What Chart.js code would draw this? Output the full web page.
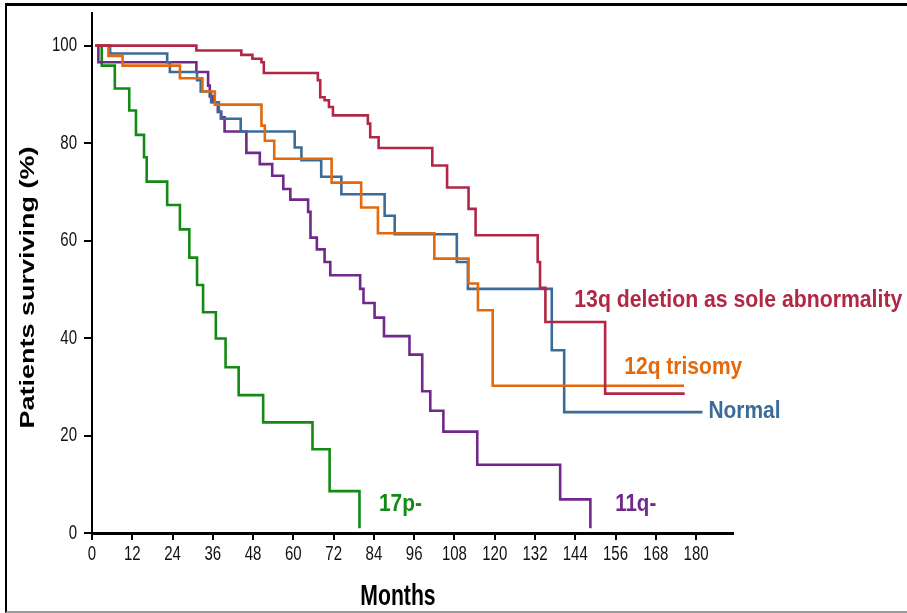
<!DOCTYPE html>
<html>
<head>
<meta charset="utf-8">
<script src="https://cdn.jsdelivr.net/npm/chart.js@4/dist/chart.umd.min.js"></script>
<style>
  html, body { margin: 0; padding: 0; background: #fff; overflow: hidden; }
  #wrap { position: relative; width: 907px; height: 613px; }
  #frame {
    position: absolute; left: 5px; top: 3px; width: 910px; height: 610px;
    box-sizing: border-box; pointer-events: none;
    border-top: 3px solid #000; border-left: 2px solid #000; border-bottom: 2px solid #999;
  }
  canvas { position: absolute; left: 0; top: 0; }
</style>
</head>
<body>
<div id="wrap">
  <canvas id="kmChart" width="907" height="613"></canvas>
  <div id="frame"></div>
</div>
<script>
// Ejes
const xTicks = [0, 12, 24, 36, 48, 60, 72, 84, 96, 108, 120, 132, 144, 156, 168, 180];
const yTicks = [0, 20, 40, 60, 80, 100];

// Curvas de supervivencia (meses, % de pacientes)
const times13q = [1, 31.1, 44.5, 47.8, 50.5, 51.2, 67.3, 68.0, 69.3, 70.6, 71.8, 82.2, 82.9, 85.4, 101.4, 105.8, 112.2, 114.3, 132.8, 133.5, 135.1, 152.9, 176.6];
const surv13q  = [100, 99.0, 98.1, 97.3, 96.6, 94.4, 92.9, 89.4, 88.8, 87.4, 85.7, 84.0, 81.2, 79.0, 75.4, 70.9, 66.5, 61.1, 55.6, 50.3, 43.3, 28.6, 28.6];

const times12q = [1, 4.9, 9.1, 26.2, 32.9, 36.6, 50.5, 51.5, 54.3, 71.4, 80.2, 85.2, 102.0, 112.2, 115.0, 119.4, 176.4];
const surv12q  = [100, 97.9, 95.9, 93.3, 90.6, 87.9, 83.6, 80.5, 76.8, 71.9, 66.8, 61.5, 56.3, 51.2, 45.7, 30.2, 30.2];

const timesNormal = [1, 5.4, 22.4, 23.2, 31.3, 32.4, 35.5, 37.8, 38.4, 44.3, 60.4, 62.4, 68.3, 74.3, 87.2, 90.2, 108.7, 112.0, 137.0, 140.7, 181.9];
const survNormal  = [100, 98.4, 96.6, 94.6, 92.9, 90.6, 88.4, 86.5, 85.0, 82.4, 79.1, 76.5, 73.1, 69.5, 65.1, 61.3, 55.6, 50.1, 37.5, 24.8, 24.8];

const times11q = [1, 1.9, 31.1, 34.6, 35.1, 36.0, 37.5, 38.5, 39.5, 46.0, 50.0, 53.7, 57.0, 59.1, 64.4, 65.1, 67.0, 69.3, 71.0, 79.9, 80.9, 84.2, 87.0, 94.6, 98.4, 100.8, 104.7, 114.8, 139.5, 148.5];
const surv11q  = [100, 96.6, 94.6, 91.8, 89.6, 88.4, 86.4, 85.3, 82.4, 78.0, 75.7, 73.3, 70.6, 68.4, 65.9, 60.6, 58.2, 55.6, 52.9, 50.1, 47.2, 44.2, 40.4, 36.6, 29.1, 25.1, 20.8, 14.0, 6.9, 1.0];

const times17p = [1, 2.9, 6.8, 11.1, 13.1, 15.5, 16.3, 22.4, 26.2, 29.0, 31.3, 33.1, 36.9, 39.8, 43.7, 51.0, 65.7, 70.8, 79.7];
const surv17p  = [100, 95.9, 91.2, 86.7, 81.7, 77.1, 72.1, 67.3, 62.3, 56.5, 50.9, 45.3, 39.9, 34.0, 28.3, 22.7, 17.2, 8.6, 1.0];

// Etiquetas de las curvas
const seriesNames = ['13q deletion as sole abnormality', '12q trisomy', 'Normal', '11q-', '17p-'];
const seriesColors = ['#b12745', '#e3690c', '#3b6c99', '#70298a', '#138a14'];

// posición de cada etiqueta en unidades de los ejes (meses, %) y ancho en px
const labelAt = [
    { x: 143.7, y: 46.4, w: 328 },
    { x: 158.6, y: 32.6, w: 118 },
    { x: 183.7, y: 23.6, w: 72 },
    { x: 155.9, y: 4.6, w: 41 },
    { x: 85.5, y: 4.6, w: 43 }
];

function puntos(t, s) {
    return t.map((v, i) => ({ x: v, y: s[i] }));
}

// Texto ajustado a un ancho (las letras del original son estrechas)
function textoAjustado(ctx, texto, x, y, fuente, ancho, opciones) {
    opciones = opciones || {};
    ctx.save();
    ctx.font = fuente;
    ctx.fillStyle = opciones.color || '#000';
    ctx.textAlign = opciones.align || 'left';
    ctx.textBaseline = opciones.baseline || 'alphabetic';
    const w = ctx.measureText(texto).width;
    const sx = ancho ? ancho / w : (opciones.sx || 1);
    ctx.translate(x, y);
    if (opciones.rot) ctx.rotate(opciones.rot);
    ctx.scale(sx, opciones.sy || 1);
    ctx.fillText(texto, 0, 0);
    ctx.restore();
}

const textosPlugin = {
    id: 'textos',
    afterDraw(chart) {
        const ctx = chart.ctx;
        const xs = chart.scales.x;
        const ys = chart.scales.y;

        // números de los ejes
        xTicks.forEach(v => {
            textoAjustado(ctx, String(v), xs.getPixelForValue(v), 554, '20px "Liberation Sans", Arial, sans-serif', 0,
                { align: 'center', baseline: 'middle', sx: 0.75, color: '#111' });
        });
        yTicks.forEach(v => {
            textoAjustado(ctx, String(v), 77, ys.getPixelForValue(v), '20px "Liberation Sans", Arial, sans-serif', 0,
                { align: 'right', baseline: 'middle', sx: 0.75, color: '#111' });
        });

        // títulos
        textoAjustado(ctx, 'Months', 398, 605, 'bold 29px "Liberation Sans", Arial, sans-serif', 0,
            { align: 'center', sx: 0.73 });
        textoAjustado(ctx, 'Patients surviving (%)', 33.5, 287.5, 'bold 26px "Liberation Sans", Arial, sans-serif', 282,
            { align: 'center', rot: -Math.PI / 2, sy: 0.75 });

        // nombres de las curvas
        seriesNames.forEach((nombre, i) => {
            const p = labelAt[i];
            textoAjustado(ctx, nombre, xs.getPixelForValue(p.x), ys.getPixelForValue(p.y),
                'bold 24px "Liberation Sans", Arial, sans-serif', p.w, { color: seriesColors[i] });
        });
    }
};

const series = [
    puntos(times13q, surv13q),
    puntos(times12q, surv12q),
    puntos(timesNormal, survNormal),
    puntos(times11q, surv11q),
    puntos(times17p, surv17p)
];

new Chart(document.getElementById('kmChart'), {
    type: 'line',
    data: {
        datasets: series.map((d, i) => ({
            label: seriesNames[i],
            data: d,
            borderColor: seriesColors[i],
            borderWidth: 2.6,
            stepped: true,
            pointRadius: 0,
            fill: false
        }))
    },
    options: {
        responsive: false,
        animation: false,
        devicePixelRatio: 1,
        layout: { padding: { left: 0, top: 13, right: 174, bottom: 0 } },
        scales: {
            x: {
                type: 'linear',
                min: 0,
                max: 191,
                afterBuildTicks: s => { s.ticks = xTicks.map(v => ({ value: v })); },
                afterFit: s => { s.height = 80; },
                ticks: { display: false },
                grid: { display: true, drawOnChartArea: false, drawTicks: true, tickLength: 7, color: '#000', lineWidth: 2 },
                border: { display: true, color: '#000', width: 3 }
            },
            y: {
                min: 0,
                max: 106.7,
                afterBuildTicks: s => { s.ticks = yTicks.map(v => ({ value: v })); },
                afterFit: s => { s.width = 92; },
                ticks: { display: false },
                grid: { display: true, drawOnChartArea: false, drawTicks: true, tickLength: 8, color: '#000', lineWidth: 2 },
                border: { display: true, color: '#000', width: 2 }
            }
        },
        plugins: {
            legend: { display: false },
            tooltip: { enabled: false }
        }
    },
    plugins: [textosPlugin]
});
</script>
</body>
</html>
